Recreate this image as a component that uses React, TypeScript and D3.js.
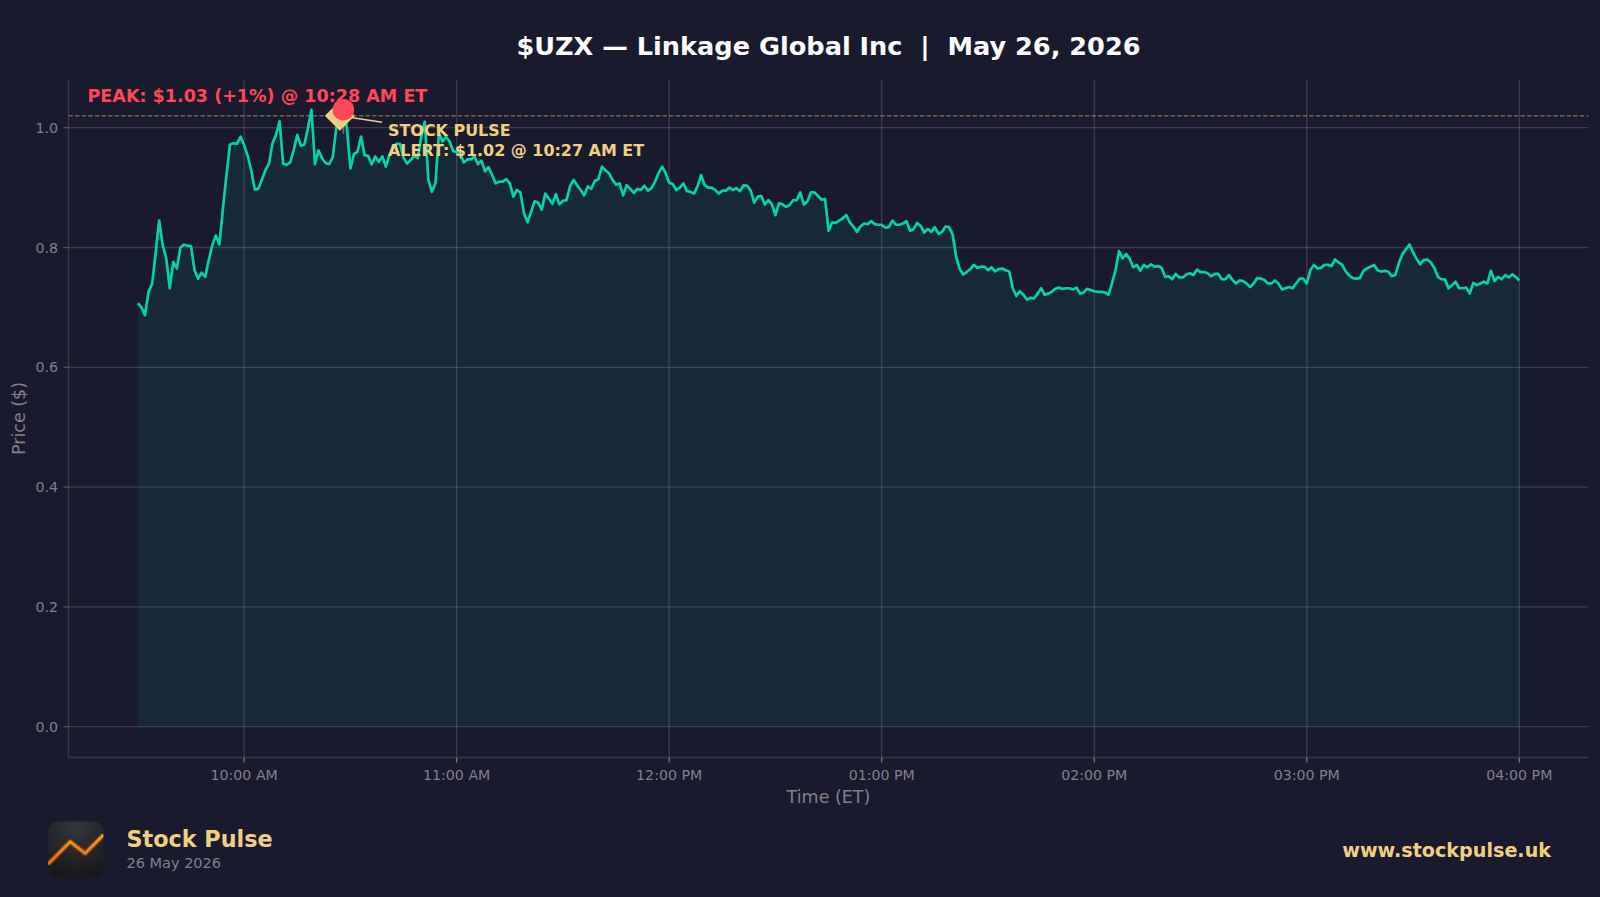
import React from "react";
import * as d3 from "d3";

const W = 1600, H = 897;
const FONT = "'DejaVu Sans', sans-serif";

// Minute-by-minute closes from 9:30 AM, grouped in half hours
const h0930 = [.707,.700,.687,.726,.739,.790,.845,.804,.782,.732,.776,.765,.800,.805,.803,.802,.762,.748,.758,.751,.779,.804,.820,.805,.865,.921,.972,.974,.973,.985];
const h1000 = [.971,.953,.929,.897,.898,.913,.929,.940,.974,.988,1.011,.940,.938,.942,.963,.988,.970,.972,.999,1.030,.939,.962,.949,.941,.939,.951,.999,1.020,1.030,1.000];
const h1030 = [.932,.956,.960,.985,.954,.953,.939,.952,.943,.952,.935,.954,.965,.973,.973,.950,.940,.946,.953,.949,.985,1.010,.913,.893,.907,.991,.977,.985,.977,.961];
const h1100 = [.959,.957,.942,.947,.947,.952,.939,.945,.927,.934,.921,.907,.910,.910,.914,.907,.885,.896,.892,.857,.842,.860,.877,.875,.863,.890,.882,.873,.889,.872];
const h1130 = [.878,.879,.902,.913,.904,.896,.887,.902,.898,.911,.914,.935,.929,.924,.913,.905,.907,.887,.904,.898,.891,.898,.896,.903,.895,.899,.910,.924,.935,.924];
const h1200 = [.908,.906,.896,.900,.907,.894,.893,.890,.902,.921,.904,.900,.900,.896,.890,.895,.895,.900,.896,.899,.894,.904,.903,.895,.875,.885,.886,.872,.879,.872];
const h1230 = [.854,.874,.872,.868,.871,.879,.879,.892,.872,.877,.892,.892,.886,.880,.881,.828,.842,.841,.845,.849,.854,.842,.835,.826,.835,.840,.839,.844,.839,.838];
const h1300 = [.838,.833,.834,.845,.838,.838,.840,.844,.828,.831,.841,.836,.825,.831,.826,.834,.823,.826,.835,.834,.822,.785,.764,.755,.759,.764,.771,.766,.768,.768];
const h1330 = [.762,.767,.760,.764,.765,.762,.760,.732,.719,.727,.721,.713,.716,.715,.723,.732,.721,.723,.726,.731,.733,.731,.732,.732,.730,.733,.723,.725,.731,.729];
const h1400 = [.727,.726,.726,.725,.721,.740,.762,.794,.782,.789,.781,.767,.771,.761,.771,.767,.772,.768,.769,.766,.751,.752,.747,.756,.750,.750,.755,.757,.754,.763];
const h1430 = [.759,.759,.757,.752,.756,.756,.747,.747,.754,.746,.740,.745,.744,.740,.734,.740,.749,.748,.746,.740,.740,.745,.740,.730,.732,.734,.732,.740,.748,.748];
const h1500 = [.740,.762,.771,.765,.766,.771,.771,.769,.780,.775,.771,.760,.753,.749,.748,.749,.761,.765,.768,.771,.762,.760,.761,.760,.752,.754,.774,.789,.797,.805];
const h1530 = [.792,.781,.772,.779,.780,.775,.766,.751,.747,.747,.732,.737,.743,.732,.732,.733,.723,.741,.737,.740,.743,.740,.761,.744,.751,.747,.754,.750,.755,.751,.745];
const prices = [...h0930, ...h1000, ...h1030, ...h1100, ...h1130, ...h1200, ...h1230, ...h1300, ...h1330, ...h1400, ...h1430, ...h1500, ...h1530];

const xTickMinutes = [30, 90, 150, 210, 270, 330, 390];
const xTickLabels = ["10:00 AM", "11:00 AM", "12:00 PM", "01:00 PM", "02:00 PM", "03:00 PM", "04:00 PM"];
const yTicks = [0, 0.2, 0.4, 0.6, 0.8, 1.0];
const logoCurve = [[0, 0.77], [0.4, 0.365], [0.67, 0.575], [1, 0.24]];

const peakMinute = 58, peakPrice = 1.03, stemLow = 0.99;
const alertMinute = 57, alertPrice = 1.02;

const BG = "#1a1a2e", TEAL = "#00d4aa", GOLD = "#f0d080", RED = "#ff4757", MUTED = "#808088";

const left = 68.5, right = 1588.5, top = 79.5, bottom = 757.5;
const x = d3.scaleLinear().domain([0, 390]).range([137.9, 1519.3]);
const y = d3.scaleLinear().domain([0, 1]).range([726.7, 127.7]);

export default function App() {
  const line = d3.line<number>().x((_, i) => x(i)).y(d => y(d));
  const area = d3.area<number>().x((_, i) => x(i)).y0(y(0)).y1(d => y(d));
  const grid = "rgba(255,255,255,0.15)";
  const ax = x(alertMinute), ay = y(alertPrice);
  const px = x(peakMinute), py = y(peakPrice);
  const lx = 48, ly = 821.5, ls = 55.5;
  const logoLine = d3.line<number[]>().x(d => lx + d[0] * ls).y(d => ly + d[1] * ls);
  return (
    <svg width={W} height={H} viewBox={`0 0 ${W} ${H}`}
      style={{ position: "fixed", left: 0, top: 0, display: "block", background: BG, fontFamily: FONT }}>
      <defs>
        <radialGradient id="logoBg" cx="0.5" cy="0.1" r="0.95">
          <stop offset="0" stopColor="#33363b" />
          <stop offset="1" stopColor="#16171b" />
        </radialGradient>
        <linearGradient id="logoStroke" gradientUnits="userSpaceOnUse" x1={0} y1={835} x2={0} y2={865}>
          <stop offset="0" stopColor="#ff9a10" />
          <stop offset="1" stopColor="#ee6400" />
        </linearGradient>
        <clipPath id="logoClip"><rect x={lx} y={ly} width={ls} height={ls} rx={11} /></clipPath>
      </defs>
      <rect width={W} height={H} fill={BG} />
      <text x={828.5} y={55} textAnchor="middle" fontSize={25.6} fontWeight="bold" fill="#fff" xmlSpace="preserve">$UZX — Linkage Global Inc  |  May 26, 2026</text>

      <path d={area(prices)!} fill={TEAL} fillOpacity={0.08} />
      {yTicks.map(t => <line key={t} x1={left} x2={right} y1={y(t)} y2={y(t)} stroke={grid} strokeWidth={1.3} />)}
      {xTickMinutes.map(t => <line key={t} x1={x(t)} x2={x(t)} y1={top} y2={bottom} stroke={grid} strokeWidth={1.3} />)}

      <line x1={left} x2={right} y1={bottom} y2={bottom} stroke="#3a3a42" strokeWidth={1.3} />
      <line x1={left} x2={left} y1={top} y2={bottom} stroke="#3a3a42" strokeWidth={1.3} />
      {yTicks.map(t => <line key={t} x1={left - 5} x2={left} y1={y(t)} y2={y(t)} stroke="#55555c" strokeWidth={1.3} />)}
      {xTickMinutes.map(t => <line key={t} x1={x(t)} x2={x(t)} y1={bottom} y2={bottom + 5} stroke="#77777d" strokeWidth={1.3} />)}
      {yTicks.map(t => <text key={t} x={58} y={y(t) + 5} textAnchor="end" fontSize={14.2} fill={MUTED}>{t.toFixed(1)}</text>)}
      {xTickMinutes.map((t, i) => <text key={t} x={x(t)} y={780} textAnchor="middle" fontSize={14.2} fill={MUTED}>{xTickLabels[i]}</text>)}
      <text x={828.5} y={802.5} textAnchor="middle" fontSize={17.5} fill={MUTED}>Time (ET)</text>
      <text transform="translate(25 418.5) rotate(-90)" textAnchor="middle" fontSize={17.5} fill={MUTED}>Price ($)</text>

      <line x1={left} x2={right} y1={ay} y2={ay} stroke={GOLD} strokeOpacity={0.4} strokeWidth={1.4} strokeDasharray="4.4 2.2" />
      <path d={line(prices)!} fill="none" stroke={TEAL} strokeWidth={2.7} strokeLinejoin="round" />

      <line x1={px} x2={px} y1={py} y2={y(stemLow)} stroke="#6a6a72" strokeWidth={1.8} />
      <line x1={ax} y1={ay} x2={382} y2={122.3} stroke={GOLD} strokeWidth={1.5} />
      <path d={d3.symbol().type(d3.symbolSquare).size(450)()!} transform={`translate(${ax} ${ay}) rotate(45)`} fill={GOLD} />
      <circle cx={px} cy={py} r={10.8} fill={RED} />

      <text x={87.5} y={101.5} fontSize={17.55} fontWeight="bold" fill={RED}>PEAK: $1.03 (+1%) @ 10:28 AM ET</text>
      <text x={388} y={136} fontSize={15.95} fontWeight="bold" fill={GOLD}>STOCK PULSE</text>
      <text x={388} y={156} fontSize={15.95} fontWeight="bold" fill={GOLD}>ALERT: $1.02 @ 10:27 AM ET</text>

      <rect x={lx} y={ly} width={ls} height={ls} rx={11} fill="url(#logoBg)" />
      <g clipPath="url(#logoClip)">
        <path d={logoLine(logoCurve)!} fill="none" stroke="#ff8000" strokeOpacity={0.22} strokeWidth={6} strokeLinejoin="round" />
        <path d={logoLine(logoCurve)!} fill="none" stroke="url(#logoStroke)" strokeWidth={3} strokeLinejoin="round" />
      </g>
      <text x={126.5} y={846.7} fontSize={22.3} fontWeight="bold" fill={GOLD}>Stock Pulse</text>
      <text x={126.5} y={867.5} fontSize={14.5} fill={MUTED}>26 May 2026</text>
      <text x={1551} y={856.7} textAnchor="end" fontSize={19.15} fontWeight="bold" fill={GOLD}>www.stockpulse.uk</text>
    </svg>
  );
}
